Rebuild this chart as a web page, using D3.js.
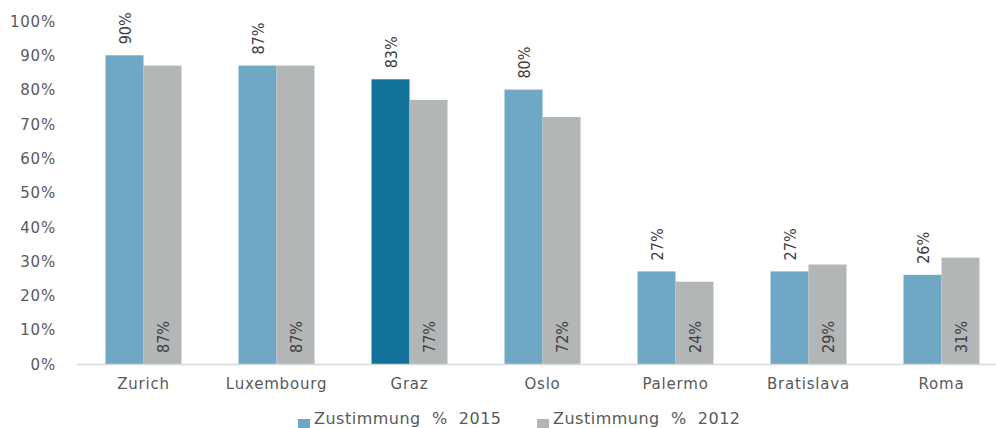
<!DOCTYPE html>
<html>
<head>
<meta charset="utf-8">
<script src="https://cdn.jsdelivr.net/npm/d3@7"></script>
<style>
  body { margin: 0; background: #fff; overflow: hidden; }
  svg { display: block; }
  .tick text { font-family: "DejaVu Sans", sans-serif; fill: #595959; letter-spacing: 0.8px; }
  .barlabel { font-family: "Liberation Sans Narrow", "DejaVu Sans Condensed", sans-serif; font-size: 16px; fill: #404040; }
  .legend text { font-family: "DejaVu Sans", sans-serif; font-size: 16px; fill: #595959; white-space: pre; letter-spacing: 0.5px; }
</style>
</head>
<body>
<div class="chart"></div>
<script>

// data
var cities = ['Zurich', 'Luxembourg', 'Graz', 'Oslo', 'Palermo', 'Bratislava', 'Roma'];
var values2015 = [90, 87, 83, 80, 27, 27, 26];
var values2012 = [87, 87, 77, 72, 24, 29, 31];
var seriesNames = ['Zustimmung  %  2015', 'Zustimmung  %  2012'];
var yTicks = [0, 10, 20, 30, 40, 50, 60, 70, 80, 90, 100];
var highlight = 'Graz';

// settings
var w = 996, h = 428;
var blue = '#6fa8c4', darkBlue = '#13729a', grey = '#b3b6b7';

var svg = d3.select('.chart')
    .append('svg')
    .attr('width', w)
    .attr('height', h);

// scales
var x0 = d3.scaleBand()
    .domain(cities)
    .range([77, 1008])
    .paddingInner(0)
    .paddingOuter(0);

var x1 = d3.scaleBand()
    .domain([0, 1])
    .range([0, 76]);

var groupOffset = (x0.bandwidth() - 76) / 2;

var y = d3.scaleLinear()
    .domain([0, 100])
    .range([364, 21]);

// y axis
var yAxis = d3.axisLeft(y)
    .tickValues(yTicks)
    .tickSize(0)
    .tickPadding(0)
    .tickFormat(function(d) { return d + '%'; });

svg.append('g')
    .attr('class', 'axis y-axis')
    .attr('transform', 'translate(56,0)')
    .call(yAxis)
    .call(function(g) { g.select('.domain').remove(); })
    .selectAll('text')
    .style('font-size', '15px')
    .attr('dy', '0.35em');

// bars
var rows = cities.map(function(c, i) {
    return { city: c, v: [values2015[i], values2012[i]] };
});

var group = svg.selectAll('.group')
    .data(rows)
    .enter()
    .append('g')
    .attr('class', 'group')
    .attr('transform', function(d) { return 'translate(' + (x0(d.city) + groupOffset) + ',0)'; });

group.selectAll('rect')
    .data(function(d) { return d.v.map(function(v, k) { return { city: d.city, k: k, v: v }; }); })
    .enter()
    .append('rect')
    .attr('x', function(d) { return x1(d.k); })
    .attr('y', function(d) { return y(d.v); })
    .attr('width', x1.bandwidth())
    .attr('height', function(d) { return y(0) - y(d.v); })
    .attr('fill', function(d) {
        if (d.k === 1) return grey;
        return d.city === highlight ? darkBlue : blue;
    });

// labels above 2015 bars
group.append('text')
    .attr('class', 'barlabel')
    .attr('transform', function(d) {
        return 'translate(' + (x1(0) + x1.bandwidth() / 2 + 1) + ',' + (y(d.v[0]) - 11) + ') rotate(-90)';
    })
    .attr('dy', '0.35em')
    .text(function(d) { return d.v[0] + '%'; });

// labels inside 2012 bars
group.append('text')
    .attr('class', 'barlabel')
    .attr('transform', function(d) {
        return 'translate(' + (x1(1) + x1.bandwidth() / 2 + 1) + ',' + (y(0) - 11) + ') rotate(-90)';
    })
    .attr('dy', '0.35em')
    .text(function(d) { return d.v[1] + '%'; });

// x axis
var xAxis = d3.axisBottom(x0)
    .tickSize(0)
    .tickPadding(14);

svg.append('g')
    .attr('class', 'axis x-axis')
    .attr('transform', 'translate(0,' + y(0) + ')')
    .call(xAxis)
    .call(function(g) { g.select('.domain').remove(); })
    .selectAll('text')
    .style('font-size', '15px');

svg.append('line')
    .attr('x1', 77)
    .attr('x2', w)
    .attr('y1', y(0) + 0.5)
    .attr('y2', y(0) + 0.5)
    .attr('stroke', '#d9d9d9')
    .attr('stroke-width', 1.5);

// legend
var legend = svg.append('g')
    .attr('class', 'legend')
    .selectAll('g')
    .data(seriesNames)
    .enter()
    .append('g')
    .attr('transform', function(d, i) { return 'translate(' + (298 + i * 239) + ',0)'; });

legend.append('rect')
    .attr('y', 419)
    .attr('width', 12)
    .attr('height', 12)
    .attr('fill', function(d, i) { return i === 0 ? blue : grey; });

legend.append('text')
    .attr('x', 16)
    .attr('y', 424)
    .text(function(d) { return d; });

</script>
</body>
</html>
